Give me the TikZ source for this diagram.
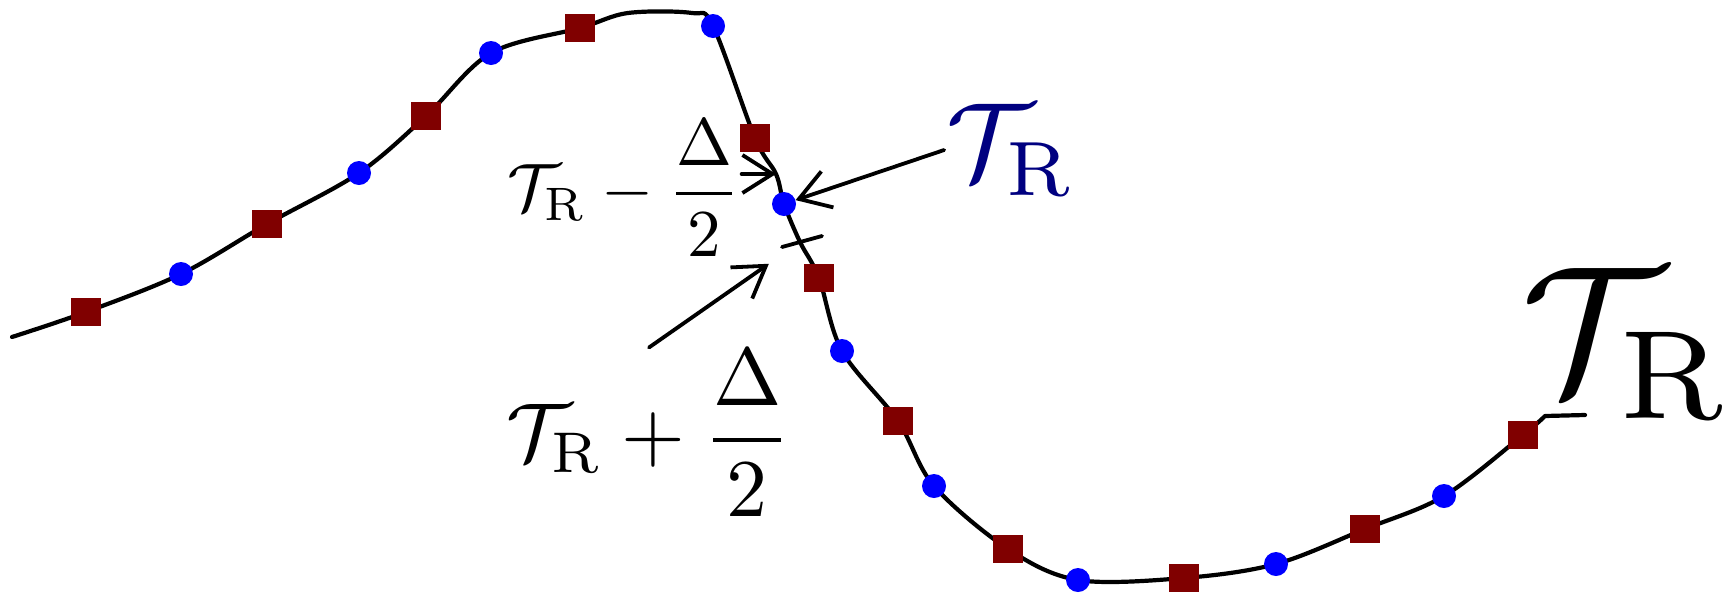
\documentclass[tikz,border=0pt]{standalone}
\usetikzlibrary{arrows.meta,calc}
\definecolor{sqred}{HTML}{800000}
\definecolor{dotblue}{HTML}{0000FF}
\definecolor{lblnavy}{HTML}{000080}
\begin{document}
\begin{tikzpicture}[x=1pt,y=-1pt,
  curve/.style={line width=4.2pt, line join=round, line cap=round},
  sq/.style={rectangle, fill=sqred, draw=none, minimum width=30pt, minimum height=28pt, inner sep=0pt},
  dot/.style={circle, fill=dotblue, draw=none, minimum size=24pt, inner sep=0pt},
  arr/.style={line width=3.8pt, line cap=round, -{Straight Barb[length=30pt,width=38pt]}},
  tickmark/.style={line width=3.8pt, line cap=round},
  lbl/.style={inner sep=0pt}]
\useasboundingbox (0,0) rectangle (1723,598);
% points along the curve
\coordinate (s) at (12,337);
\coordinate (pr1) at (86,312);
\coordinate (pb1) at (181,274);
\coordinate (pr2) at (267,224);
\coordinate (pb2) at (359,173);
\coordinate (pr3) at (426,116);
\coordinate (pb3) at (491,53);
\coordinate (pr4) at (580,28);
\coordinate (t1) at (628,13);
\coordinate (t2) at (692,13);
\coordinate (pb4) at (713,26);
\coordinate (pr5) at (755,138);
\coordinate (up) at (776,174);
\coordinate (pb5) at (784,204);
\coordinate (lo) at (800,242);
\coordinate (pr6) at (819,278);
\coordinate (pb6) at (842,351);
\coordinate (pr7) at (898,421);
\coordinate (pb7) at (934,486);
\coordinate (pr8) at (1008,549);
\coordinate (pb8) at (1078,580);
\coordinate (pr9) at (1184,578);
\coordinate (pb9) at (1276,564);
\coordinate (pr10) at (1365,529);
\coordinate (pb10) at (1444,496);
\coordinate (pr11) at (1523,435);
\coordinate (e1) at (1545,416);
\coordinate (e2) at (1585,415);
% the curve
\draw[curve] plot[smooth, tension=0.55] coordinates {(s) (pr1) (pb1) (pr2) (pb2) (pr3) (pb3) (pr4) (t1) (t2) (pb4) (pr5) (up) (pb5) (lo) (pr6) (pb6) (pr7) (pb7) (pr8) (pb8) (pr9) (pb9) (pr10) (pb10) (pr11) (e1)} -- (e2);
% markers
\foreach \i in {1,...,11} \node[sq] (r\i) at (pr\i) {};
\foreach \i in {1,...,10} \node[dot] (b\i) at (pb\i) {};
% labels
\node[lbl, scale=6.7] (lm) at (624,188) {$\displaystyle\mathcal{T}_\mathrm{R}-\frac{\Delta}{2}$};
\node[lbl, scale=8.2] (lb) at (649,433) {$\displaystyle\mathcal{T}_\mathrm{R}+\frac{\Delta}{2}$};
\node[lbl, scale=11, text=lblnavy] (bl) at (1011,150) {$\mathcal{T}_\mathrm{R}$};
\node[lbl, scale=18] (rt) at (1627,343) {$\mathcal{T}_\mathrm{R}$};
% arrows
\draw[arr] (lm.east |- up) -- (up);
\draw[arr] (bl.west) -- (b5);
\draw[arr, shorten >=38pt] (lb.north) -- (lo);
\draw[tickmark] ($(lo)+(-18,5)$) -- ($(lo)+(22,-6)$);
\end{tikzpicture}
\end{document}
